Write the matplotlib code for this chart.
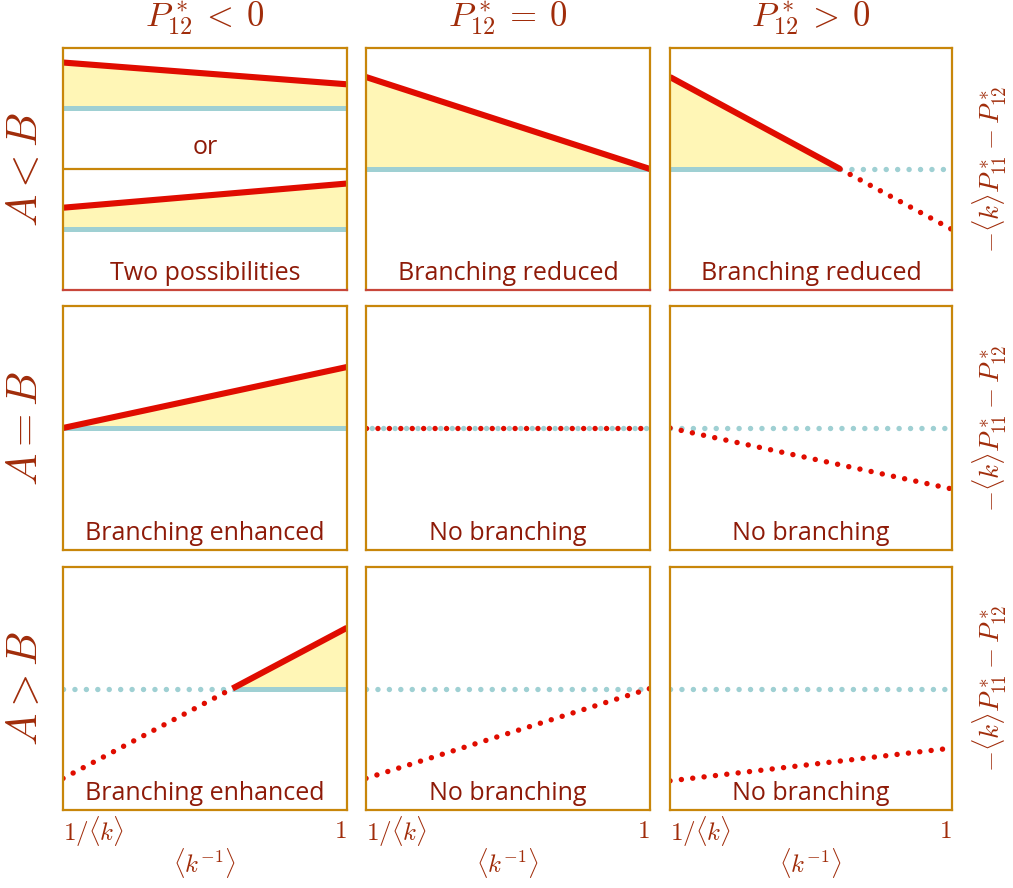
import numpy as np
import matplotlib
matplotlib.use("Agg")
import matplotlib.pyplot as plt

plt.rcParams["mathtext.fontset"] = "cm"
plt.rcParams["font.family"] = ["Open Sans", "DejaVu Sans"]

# Data: each panel is a red line between x=0 and x=1, with a baseline
col_titles = [r"$P^*_{12}\:<\:0$", r"$P^*_{12}\:=\:0$", r"$P^*_{12}\:>\:0$"]
row_labels = [r"$A < B$", r"$A = B$", r"$A > B$"]
right_label = r"$-\langle k\rangle P^*_{11} - P^*_{12}$"
xtick_left = r"$1/\langle k\rangle$"
xtick_right = r"$1$"
xlabel = r"$\langle k^{-1}\rangle$"

x_ends = [0.0, 1.0]
baseline = 0.5
# red line start/end (y at x=0 and x=1), by row then column
red_row1 = [[0.88, 0.50], [0.88, 0.25]]          # columns 2 and 3
red_row2 = [[0.50, 0.75], [0.50, 0.50], [0.50, 0.25]]
red_row3 = [[0.13, 0.75], [0.13, 0.50], [0.12, 0.255]]
# the split top-left panel: two possibilities
split_upper_red = [0.94, 0.85]
split_upper_base = 0.75
split_lower_red = [0.34, 0.44]
split_lower_base = 0.25

panel_text = [
    ["Two possibilities", "Branching reduced", "Branching reduced"],
    ["Branching enhanced", "No branching", "No branching"],
    ["Branching enhanced", "No branching", "No branching"],
]

RED = "#e00c00"
BLUE = "#9fd0d3"
YELLOW = "#fff6b6"
FRAME = "#c8860a"
TEXT = "#8e1a08"
MATH = "#a02c0a"

W, H = 1013, 888
fig = plt.figure(figsize=(W / 100, H / 100), dpi=100)

cols_px = [(63, 347), (366, 650), (670, 952)]
rows_px = [(48, 290), (306, 550), (567, 810)]

solid_lw = 4.4
blue_lw = 3.6
dot_lw = 3.9
dot_style = (0, (0.01, 2.1))
dot_half = (1.05, (0.01, 2.1))   # blue dots offset half a period


def dotted(ax, xs, ys, color, style=dot_style):
    ax.plot(xs, ys, color=color, lw=dot_lw, ls=style, dash_capstyle="round")


def draw_segment(ax, y0, y1, base):
    # split line where it crosses the baseline
    x0, x1 = x_ends
    xs = np.array(x_ends)
    ys = np.array([y0, y1])
    if y0 == y1 == base:
        dotted(ax, xs, [base, base], BLUE, dot_half)
        dotted(ax, xs, ys, RED)
        return
    if (y0 - base) * (y1 - base) < 0:
        xc = x0 + (base - y0) / (y1 - y0) * (x1 - x0)
    else:
        xc = None
    if xc is None:
        above = (y0 + y1) / 2 > base
        if above:
            ax.fill_between(xs, base, ys, color=YELLOW, lw=0)
            ax.plot(xs, [base, base], color=BLUE, lw=blue_lw, solid_capstyle="butt")
            ax.plot(xs, ys, color=RED, lw=solid_lw, solid_capstyle="butt")
        else:
            dotted(ax, xs, [base, base], BLUE)
            dotted(ax, xs, ys, RED)
        return
    # crossing
    if y0 > base:
        sx, dx = [x0, xc], [xc, x1]
        sy, dy = [y0, base], [base, y1]
    else:
        dx, sx = [x0, xc], [xc, x1]
        dy, sy = [y0, base], [base, y1]
    ax.fill_between(sx, base, sy, color=YELLOW, lw=0)
    ax.plot(sx, [base, base], color=BLUE, lw=blue_lw, solid_capstyle="butt")
    dotted(ax, dx, [base, base], BLUE)
    ax.plot(sx, sy, color=RED, lw=solid_lw, solid_capstyle="butt")
    dotted(ax, dx, dy, RED)


for r, (ytop, ybot) in enumerate(rows_px):
    for c, (xl, xr) in enumerate(cols_px):
        ax = fig.add_axes([xl / W, 1 - ybot / H, (xr - xl) / W, (ybot - ytop) / H])
        ax.set_xlim(0, 1)
        ax.set_ylim(0, 1)
        ax.set_xticks([])
        ax.set_yticks([])
        for s in ax.spines.values():
            s.set_color(FRAME)
            s.set_linewidth(1.6)
        if r == 0:
            ax.spines["bottom"].set_color("#c8463a")

        if r == 0 and c == 0:
            for red, base in [(split_upper_red, split_upper_base),
                              (split_lower_red, split_lower_base)]:
                ax.fill_between(x_ends, base, red, color=YELLOW, lw=0)
                ax.plot(x_ends, [base, base], color=BLUE, lw=blue_lw,
                        solid_capstyle="butt")
                ax.plot(x_ends, red, color=RED, lw=solid_lw, solid_capstyle="butt")
            ax.axhline(0.5, color=FRAME, lw=1.6)
            ax.text(0.5, 0.59, "or", ha="center", va="center", fontsize=18,
                    color=TEXT)
        else:
            if r == 0:
                y0, y1 = red_row1[c - 1]
            elif r == 1:
                y0, y1 = red_row2[c]
            else:
                y0, y1 = red_row3[c]
            draw_segment(ax, y0, y1, baseline)

        ax.text(0.5, 0.068, panel_text[r][c], ha="center", va="center",
                fontsize=18, color=TEXT)

        if r == 0:
            ax.text(0.5, 1.125, col_titles[c], ha="center", va="center",
                    fontsize=25, color=MATH, transform=ax.transAxes)
        if c == 0:
            ax.text(-0.13, 0.5, row_labels[r], ha="center", va="center",
                    rotation=90, fontsize=31, color=MATH, transform=ax.transAxes)
        if c == 2:
            ax.text(1.135, 0.5, right_label, ha="center", va="center",
                    rotation=90, fontsize=19.5, color=MATH, transform=ax.transAxes)
        if r == 2:
            ax.text(0.0, -0.09, xtick_left, ha="left", va="center",
                    fontsize=18, color=MATH, transform=ax.transAxes)
            ax.text(1.0, -0.09, xtick_right, ha="right", va="center",
                    fontsize=18, color=MATH, transform=ax.transAxes)
            ax.text(0.5, -0.22, xlabel, ha="center", va="center",
                    fontsize=18, color=MATH, transform=ax.transAxes)

fig.savefig("out.png", dpi=100)
